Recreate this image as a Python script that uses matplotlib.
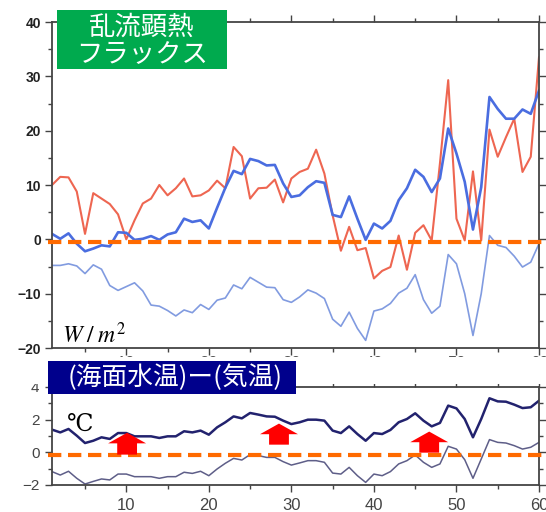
import numpy as np
import matplotlib
matplotlib.use("Agg")
import matplotlib.pyplot as plt
from matplotlib.patches import Rectangle
from matplotlib.ticker import MultipleLocator

days = np.arange(1, 61)

# sensible heat flux (W/m2)
flux_red = [10.0, 11.5, 11.4, 8.8, 1.0, 8.5, 7.5, 6.5, 4.6, 0.0,
            3.5, 6.6, 7.5, 10.0, 8.1, 9.4, 11.2, 7.9, 8.1, 9.0,
            10.8, 9.4, 17.0, 15.3, 7.5, 9.4, 9.5, 11.0, 6.8, 11.2,
            12.4, 13.0, 16.5, 12.1, 4.4, -2.1, 2.3, -2.0, -1.6, -7.2,
            -5.8, -5.1, 0.7, -5.6, 1.2, 2.6, -0.2, 14.0, 29.3, 3.8,
            -0.2, 12.5, -0.2, 20.2, 15.2, 18.8, 22.2, 12.4, 15.2, 33.5]
flux_blue = [1.0, 0.1, 1.1, -0.8, -2.2, -1.7, -1.1, -1.3, 1.3, 1.2,
             -0.1, 0.1, 0.6, -0.1, 0.9, 1.3, 3.8, 3.2, 3.5, 2.0,
             5.8, 9.5, 12.6, 12.0, 14.8, 14.4, 13.6, 13.7, 10.3, 7.8,
             8.1, 9.6, 10.7, 10.4, 4.5, 4.1, 7.9, 3.8, -0.1, 2.9,
             2.0, 3.4, 7.2, 9.4, 12.8, 11.5, 8.7, 11.2, 20.4, 15.8,
             10.6, 1.8, 9.6, 26.2, 24.0, 22.2, 22.2, 23.9, 23.1, 27.4]
flux_light = [-4.8, -4.8, -4.5, -4.9, -6.3, -4.7, -5.5, -8.5, -9.4, -8.7,
              -8.0, -9.5, -12.1, -12.3, -13.1, -14.1, -13.0, -13.5, -12.0, -12.9,
              -11.2, -10.8, -8.4, -9.1, -7.0, -7.9, -8.8, -8.9, -11.1, -11.6,
              -10.6, -9.3, -9.9, -10.9, -14.7, -16.0, -13.4, -16.4, -18.6, -13.2,
              -12.8, -11.8, -9.9, -9.0, -6.5, -11.1, -13.6, -12.3, -2.8, -4.5,
              -10.0, -17.7, -10.0, 0.7, -1.1, -1.5, -3.1, -5.1, -4.2, -0.8]

# sea surface temperature minus air temperature (deg C)
dt_upper = [1.39, 1.22, 1.43, 1.02, 0.57, 0.71, 0.92, 0.82, 1.18, 1.18,
            0.98, 0.98, 0.98, 0.88, 0.98, 0.98, 1.29, 1.22, 1.33, 1.08,
            1.53, 1.84, 2.20, 2.08, 2.41, 2.31, 2.20, 2.18, 1.94, 1.73,
            1.84, 2.00, 2.00, 1.94, 1.33, 1.18, 1.59, 1.12, 0.71, 1.18,
            1.12, 1.37, 1.84, 2.04, 2.39, 1.94, 1.59, 1.80, 2.86, 2.69,
            2.04, 0.92, 2.04, 3.31, 3.12, 3.10, 2.92, 2.71, 2.76, 3.16]
dt_lower = [-1.18, -1.39, -1.16, -1.59, -1.94, -1.78, -1.63, -1.69, -1.33, -1.33,
            -1.49, -1.49, -1.49, -1.59, -1.49, -1.49, -1.22, -1.29, -1.16, -1.43,
            -1.02, -0.67, -0.37, -0.47, -0.14, -0.20, -0.31, -0.31, -0.57, -0.78,
            -0.65, -0.51, -0.51, -0.61, -1.27, -1.33, -0.92, -1.43, -1.84, -1.33,
            -1.43, -1.18, -0.71, -0.51, -0.16, -0.61, -0.92, -0.71, 0.37, 0.20,
            -0.45, -1.59, -0.41, 0.78, 0.61, 0.57, 0.41, 0.20, 0.31, 0.61]

arrow_x = [10.1, 28.5, 46.7]
arrow_base = [-0.14, 0.47, -0.02]
arrow_top = [1.20, 1.76, 1.27]

W, H = 546, 512
fig = plt.figure(figsize=(W / 100, H / 100), dpi=100)


def box(x0, y0, x1, y1):
    # pixel box, origin top-left -> figure fraction [l, b, w, h]
    return [x0 / W, 1 - y1 / H, (x1 - x0) / W, (y1 - y0) / H]


def style_axes(ax):
    for sp in ax.spines.values():
        sp.set_color('#444444')
        sp.set_linewidth(1.3)
    ax.tick_params(which='both', direction='out', top=True, right=True,
                   color='#444444', width=1)
    ax.tick_params(which='major', length=5)
    ax.tick_params(which='minor', length=3)
    ax.xaxis.set_major_locator(MultipleLocator(10))
    ax.xaxis.set_minor_locator(MultipleLocator(5))
    ax.set_xlim(1, 60)


ax1 = fig.add_axes(box(52, 22, 539, 348))
ax2 = fig.add_axes(box(52, 387, 539, 485))

# upper panel: heat flux
ax1.plot(days, flux_red, color='#EE6651', lw=1.5)
ax1.plot(days, flux_light, color='#819BE0', lw=1.2)
ax1.plot(days, flux_blue, color='#4A6DE0', lw=1.9)
ax1.plot([0.5, 60.9], [-0.4, -0.4], color='#FF6A00', lw=3,
         dashes=(3.2, 1.6), clip_on=False, zorder=5)
style_axes(ax1)
ax1.set_ylim(-20, 40)
ax1.yaxis.set_major_locator(MultipleLocator(10))
ax1.yaxis.set_minor_locator(MultipleLocator(5))
ax1.tick_params(axis='y', labelsize=10, labelcolor='#222222', pad=3)
ax1.tick_params(axis='x', labelsize=12, labelcolor='#555555', pad=1)
for lab in ax1.get_yticklabels():
    lab.set_fontweight('bold')
    lab.set_family('Liberation Sans')
for lab in ax1.get_xticklabels():
    lab.set_family('Liberation Sans')

# lower panel: SST - air temperature
ax2.plot(days, dt_upper, color='#22226E', lw=1.8)
ax2.plot(days, dt_lower, color='#5E5E88', lw=1.1)
ax2.plot([0.5, 60.9], [-0.15, -0.15], color='#FF6A00', lw=3,
         dashes=(3.2, 1.6), clip_on=False, zorder=5)
for x, b, t in zip(arrow_x, arrow_base, arrow_top):
    ax2.arrow(x, b, 0, t - b, width=2.4, head_width=4.6, head_length=0.65,
              length_includes_head=True, color='#FF0000', lw=0, zorder=6)
style_axes(ax2)
ax2.set_ylim(-2, 4)
ax2.yaxis.set_major_locator(MultipleLocator(2))
ax2.yaxis.set_minor_locator(MultipleLocator(1))
ax2.tick_params(axis='y', labelsize=11, labelcolor='#444444', pad=4)
ax2.tick_params(axis='x', labelsize=12, labelcolor='#444444', pad=4)
for lab in ax2.get_xticklabels() + ax2.get_yticklabels():
    lab.set_family('Liberation Sans')

# white strip between the panels
fig.patches.append(Rectangle((0, 1 - 384 / H), 1, (384 - 357) / H,
                             transform=fig.transFigure, facecolor='white',
                             edgecolor='none', zorder=2))

# title boxes
cjk = ['Noto Sans CJK JP', 'DejaVu Sans']
l, b, w, h = box(57, 10, 227, 69)
fig.patches.append(Rectangle((l, b), w, h, transform=fig.transFigure,
                             facecolor='#00AA4E', edgecolor='none', zorder=3))
fig.text(142 / W, 1 - 27 / H, '乱流顕熱', color='white', fontsize=19,
         family=cjk, ha='center', va='center', zorder=4)
fig.text(142 / W, 1 - 55 / H, 'フラックス', color='white', fontsize=19,
         family=cjk, ha='center', va='center', zorder=4)

l, b, w, h = box(48, 361, 296, 394)
fig.patches.append(Rectangle((l, b), w, h, transform=fig.transFigure,
                             facecolor='#00008C', edgecolor='none', zorder=3))
fig.text(175 / W, 1 - 378 / H, '(海面水温)ー(気温)', color='white', fontsize=18.5,
         family=cjk, ha='center', va='center', zorder=4)

# units
fig.text(62 / W, 1 - 343 / H, r'$W\;/\;m^2$', fontsize=17,
         math_fontfamily='stix', va='baseline', zorder=4)
fig.text(67 / W, 1 - 431 / H, '℃', fontsize=17,
         family=['DejaVu Serif', 'Noto Sans CJK JP'], va='baseline', zorder=4)

fig.savefig('out.png', dpi=100)
